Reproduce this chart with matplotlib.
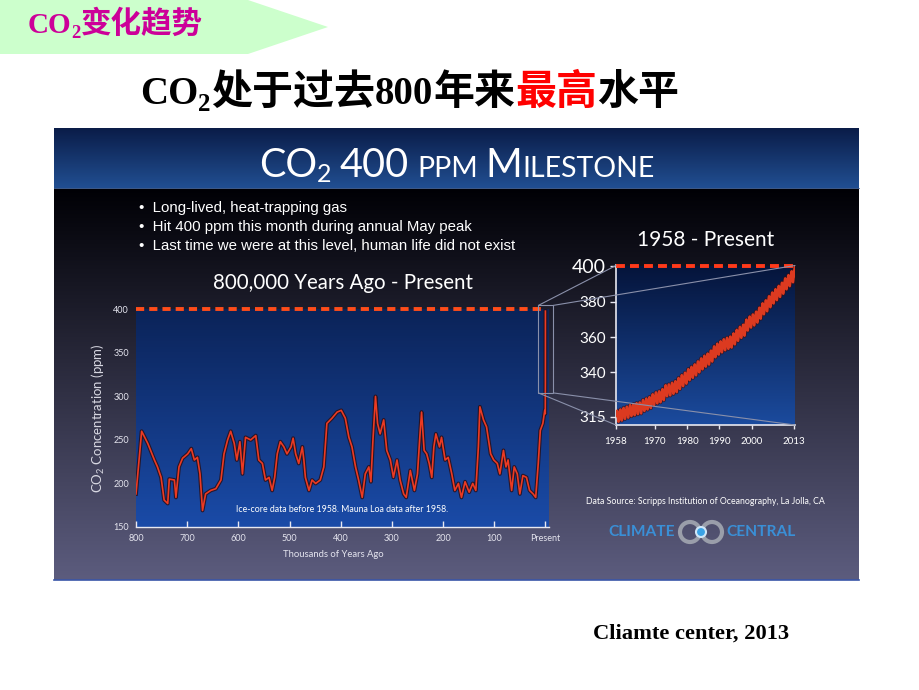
#!/usr/bin/python
# coding:utf-8
'''
CO2变化趋势: 80万年冰芯CO2 + 1958年以来Mauna Loa观测
'''
import matplotlib
matplotlib.use('Agg')
import matplotlib.pyplot as plt
import numpy as np
from matplotlib.patches import Polygon, Rectangle, Circle, ConnectionPatch
from matplotlib.colors import LinearSegmentedColormap

plt.rcParams['font.family'] = ['Lato', 'DejaVu Sans']

W, H = 920, 690
CJK = ['Noto Sans CJK SC', 'DejaVu Sans']
SERIF = ['Liberation Serif', 'DejaVu Serif']
SANS = ['Liberation Sans', 'DejaVu Sans']

# 冰芯数据: 千年前, ppm
ice_kyr = [800, 789, 777, 764, 758, 751, 745, 738, 735, 725, 722, 716, 709, 699, 692,
           686, 680, 675, 670, 664, 654, 644, 634, 628, 621, 615, 608, 603, 597, 592,
           586, 576, 566, 560, 553, 547, 540, 534, 529, 524, 518, 511, 505, 497, 493,
           488, 482, 475, 472, 469, 462, 456, 449, 440, 433, 427, 417, 407, 399, 391,
           384, 378, 371, 365, 358, 352, 345, 341, 337, 332, 328, 323, 316, 310, 303,
           297, 290, 284, 277, 272, 264, 256, 250, 245, 242, 237, 232, 227, 222, 218,
           214, 207, 203, 196, 190, 183, 177, 170, 164, 157, 149, 142, 136, 131, 128,
           121, 115, 107, 101, 94, 89, 82, 77, 73, 66, 61, 55, 50, 44, 37,
           31, 24, 19, 14, 10, 5, 1.3, 0.3, 0.06, 0.0]
ice_ppm = [188, 260, 246, 227, 219, 207, 181, 177, 205, 204, 184, 219, 229, 234, 240,
           227, 230, 211, 169, 188, 192, 194, 204, 234, 250, 260, 246, 227, 248, 211,
           253, 250, 255, 227, 223, 204, 207, 192, 207, 234, 248, 242, 234, 242, 252,
           234, 223, 242, 227, 207, 192, 204, 200, 204, 219, 269, 275, 282, 284, 275,
           253, 242, 219, 204, 184, 211, 219, 202, 250, 300, 269, 257, 273, 238, 227,
           207, 227, 204, 188, 184, 215, 192, 211, 257, 282, 238, 234, 223, 207, 242,
           257, 242, 253, 227, 230, 211, 192, 200, 184, 202, 190, 200, 192, 242, 288,
           273, 265, 234, 227, 223, 211, 238, 219, 227, 192, 219, 211, 188, 209, 207,
           192, 188, 184, 223, 261, 269, 284, 280, 316, 398]

# Mauna Loa 年均值 (ppm) 与月季节变化 (1-12月, ppm)
mlo_years = list(range(1958, 2014))
mlo_annual = [315.3, 316.0, 316.9, 317.6, 318.5, 319.0, 319.6, 320.0, 321.4, 322.2,
              323.0, 324.6, 325.7, 326.3, 327.5, 329.7, 330.2, 331.1, 332.0, 333.8,
              335.4, 336.8, 338.8, 340.1, 341.5, 343.2, 344.9, 346.4, 347.6, 349.3,
              351.7, 353.2, 354.5, 355.7, 356.5, 357.2, 359.0, 361.0, 362.7, 363.9,
              366.8, 368.5, 369.7, 371.3, 373.5, 376.0, 377.7, 380.0, 382.1, 384.0,
              385.8, 387.6, 390.1, 391.9, 394.1, 396.7]
mlo_season = [0.1, 0.7, 1.4, 2.6, 3.1, 2.4, 0.9, -1.2, -3.0, -3.2, -1.9, -0.8]

main_xticks = [800, 700, 600, 500, 400, 300, 200, 100, 0]
main_xlabels = ['800', '700', '600', '500', '400', '300', '200', '100', 'Present']
main_yticks = [150, 200, 250, 300, 350, 400]
inset_xticks = [1958, 1970, 1980, 1990, 2000, 2013]
inset_yticks = [315, 340, 360, 380, 400]

bullets = ['•  Long-lived, heat-trapping gas',
           '•  Hit 400 ppm this month during annual May peak',
           '•  Last time we were at this level, human life did not exist']

fig = plt.figure(figsize=(W / 100, H / 100), dpi=100)
fig.patch.set_facecolor('white')

bg = fig.add_axes([0, 0, 1, 1])
bg.axis('off')


def px_axes(x0, y0, x1, y1):
    return fig.add_axes([x0 / W, 1 - y1 / H, (x1 - x0) / W, (y1 - y0) / H])


def draw_runs(ax, x, y, parts, ha='left'):
    # parts: (text, dy, gap, kwargs) 逐段拼接文字
    r = fig.canvas.get_renderer()
    items = []
    for s, dy, gap, kw in parts:
        t = ax.text(0, y + dy, s, va='baseline', ha='left', **kw)
        items.append((t, t.get_window_extent(renderer=r).width + gap))
    total = sum(w for _, w in items)
    cx = x - total / 2 if ha == 'center' else x
    for t, w in items:
        t.set_x(cx)
        cx += w


def gradient(ax, c0, c1, extent, transform=None, zorder=0):
    cmap = LinearSegmentedColormap.from_list('g', [c0, c1])
    g = np.linspace(0, 1, 256).reshape(-1, 1)
    kw = {} if transform is None else {'transform': transform}
    ax.imshow(g, cmap=cmap, extent=extent, aspect='auto', origin='upper',
              interpolation='bicubic', zorder=zorder, **kw)


# 嵌入图片背景
gradient(bg, '#000005', '#5c5c7e', [54, 859, 580, 188])
gradient(bg, '#0a1c48', '#214f92', [54, 859, 188, 128])
bg.plot([54, 859], [188, 188], color='#4a6aa0', lw=0.6)
bg.plot([54, 859], [580, 580], color='#3a56a8', lw=1.2)

# 左上角绿色箭头
bg.add_patch(Polygon([(0, 0), (248, 0), (328, 27), (248, 54), (0, 54)],
                     closed=True, facecolor='#ccffcc', edgecolor='none'))
bg.set_xlim(0, W)
bg.set_ylim(H, 0)

mag = '#cc0099'
draw_runs(bg, 28, 33, [
    ('CO', 0, 0, dict(family=SERIF, weight='bold', size=21, color=mag)),
    ('2', 5, 0, dict(family=SERIF, weight='bold', size=13.5, color=mag)),
    ('变化趋势', 0, 0, dict(family=CJK, weight='bold', size=22, color=mag)),
])

draw_runs(bg, 140, 104, [
    ('CO', 0, 0, dict(family=SERIF, weight='bold', size=28, color='black')),
    ('2', 7, 0, dict(family=SERIF, weight='bold', size=18, color='black')),
    ('处于过去', 0, 0, dict(family=CJK, weight='bold', size=29.5, color='black')),
    ('800', 0, 0, dict(family=SERIF, weight='bold', size=28, color='black')),
    ('年来', 0, 0, dict(family=CJK, weight='bold', size=29.5, color='black')),
    ('最高', 0, 0, dict(family=CJK, weight='bold', size=29.5, color='#ff0000')),
    ('水平', 0, 0, dict(family=CJK, weight='bold', size=29.5, color='black')),
])

bg.text(593, 639, 'Cliamte center, 2013', family=SERIF, weight='bold', size=16.2,
        color='black', va='baseline')

# 图片标题 (小型大写字母)
big = dict(size=28.5, color='white')
small = dict(size=20.5, color='white')
draw_runs(bg, 457, 177, [
    ('CO', 0, 0, big), ('2', 5, 8, dict(size=18, color='white')),
    ('400', 0, 8, big), ('PPM', 0, 8, small), ('M', 0, 0, big), ('ILESTONE', 0, 0, small),
], ha='center')

for i, b in enumerate(bullets):
    bg.text(139, 208 + 19 * i, b, family=SANS, size=10.8, color='white', va='center')

bg.text(343, 283, '800,000 Years Ago - Present', size=14.8, color='white',
        ha='center', va='center')
bg.text(706, 240, '1958 - Present', size=15, color='white', ha='center', va='center')
bg.text(705, 501, 'Data Source: Scripps Institution of Oceanography, La Jolla, CA',
        size=6.3, color='white', ha='center', va='center')

# Climate Central 标志
blue = '#3a8fd6'
bg.text(642, 532, 'CLIMATE', size=11.2, weight='bold', color=blue,
        ha='center', va='center')
bg.text(761, 532, 'CENTRAL', size=11.2, weight='bold', color=blue,
        ha='center', va='center')
bg.add_patch(Circle((690, 532), 10, fill=False, lw=3, edgecolor='#9a9eaa'))
bg.add_patch(Circle((712, 532), 10, fill=False, lw=3, edgecolor='#9a9eaa'))
bg.add_patch(Circle((701, 532), 5, facecolor='#3aa2e6', edgecolor='#cfe6f8', lw=1.5))

# 主图: 80万年
ax = px_axes(136, 308.5, 549, 527)
gradient(ax, '#0b2358', '#1a4ba8', [0, 1, 0, 1], transform=ax.transAxes)
ax.plot(ice_kyr, ice_ppm, color='#2a0c12', lw=2.8, alpha=0.8, zorder=2)
ax.plot(ice_kyr, ice_ppm, color='#ec3a22', lw=1.2, zorder=3)
ax.plot([800, 0], [400, 400], color='#ff4d1a', lw=2.8, ls=(0, (2.1, 1.3)),
        clip_on=False, zorder=4)
ax.set_xlim(800, -7)
ax.set_ylim(150, 401)
ax.set_xticks(main_xticks)
ax.set_xticklabels(main_xlabels)
ax.set_yticks(main_yticks)
for s in ['top', 'right', 'left']:
    ax.spines[s].set_visible(False)
ax.spines['bottom'].set_color('#e8e8f0')
ax.spines['bottom'].set_linewidth(1.0)
ax.tick_params(axis='x', direction='in', length=4, width=1, color='#e8e8f0',
               labelcolor='#e4e4ee', labelsize=6.5, pad=5)
ax.tick_params(axis='y', length=0, labelcolor='#e4e4ee', labelsize=6.5, pad=5)
ax.text(0.5, 0.078, 'Ice-core data before 1958. Mauna Loa data after 1958.',
        transform=ax.transAxes, size=6.3, color='white', ha='center', va='center')
ax.text(-0.090, 0.5, 'CO$_\\mathregular{2}$ Concentration (ppm)', transform=ax.transAxes,
        size=9.5, color='#d8d8e2', rotation=90, ha='center', va='center')
ax.text(0.477, -0.128, 'Thousands of Years Ago', transform=ax.transAxes,
        size=6.8, color='#e4e4ee', ha='center', va='center')

# 放大框
box_x0, box_x1, box_y0, box_y1 = 13.6, -15.6, 304, 404.6
ax.add_patch(Rectangle((box_x0, box_y0), box_x1 - box_x0, box_y1 - box_y0, fill=False,
                       edgecolor='#8a90aa', lw=0.8, clip_on=False, zorder=5))

# 插图: 1958 - 至今
ins = px_axes(616, 265.5, 795, 425)
gradient(ins, '#05143a', '#1b4b9e', [0, 1, 0, 1], transform=ins.transAxes)
t_month, v_month = [], []
for yr, base in zip(mlo_years, mlo_annual):
    for m, s in enumerate(mlo_season):
        t_month.append(yr + (m + 0.5) / 12)
        v_month.append(base + s)
ins.plot(t_month, v_month, color='#3a0e10', lw=2.8, alpha=0.7, zorder=2)
ins.plot(t_month, v_month, color='#dc3a20', lw=1.7, zorder=3)
ins.plot([1958, 2013], [400, 400], color='#ff3a1a', lw=2.8, ls=(0, (2.3, 1.3)),
         clip_on=False, zorder=4)
ins.set_xlim(1958, 2013.4)
ins.set_ylim(310.3, 400.4)
ins.set_xticks(inset_xticks)
ins.set_yticks(inset_yticks)
for s in ['top', 'right']:
    ins.spines[s].set_visible(False)
for s in ['left', 'bottom']:
    ins.spines[s].set_color('#e8e8f0')
    ins.spines[s].set_linewidth(1.2)
ins.tick_params(axis='x', direction='out', length=3, width=1, color='#e8e8f0',
                labelcolor='white', labelsize=7, pad=6)
ins.tick_params(axis='y', direction='out', length=4, width=1, color='#e8e8f0',
                labelcolor='white', labelsize=11, pad=3)
for lab in ins.get_yticklabels():
    if lab.get_text() == '400':
        lab.set_fontsize(14)

# 连接线
corners = [((box_x0, box_y1), (0, 1)), ((box_x1, box_y1), (1, 1)),
           ((box_x0, box_y0), (0, 0)), ((box_x1, box_y0), (1, 0))]
for a, b in corners:
    con = ConnectionPatch(xyA=a, coordsA=ax.transData, xyB=b, coordsB=ins.transAxes,
                          color='#8a90aa', lw=0.8, zorder=6)
    fig.add_artist(con)

fig.savefig('out.png', dpi=100)
